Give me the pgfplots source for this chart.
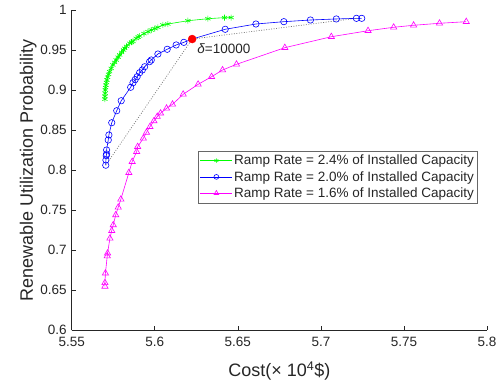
\documentclass[border=0pt]{standalone}
\usepackage{fontspec}
\setmainfont{Liberation Sans}
\usepackage{pgfplots}
\pgfplotsset{compat=1.18}

\definecolor{axgray}{gray}{0.15}
\definecolor{dotgray}{gray}{0.45}
\definecolor{cgreen}{rgb}{0,1,0}
\definecolor{cblue}{rgb}{0,0,1}
\definecolor{cmag}{rgb}{1,0,1}
\definecolor{cred}{rgb}{1,0,0}

% Pareto fronts: cost (x 10^4 $) vs. renewable utilization probability
\pgfplotstableread{
cost    prob
5.5700  0.8885
5.5700  0.8920
5.5701  0.8960
5.5702  0.9000
5.5704  0.9030
5.5706  0.9060
5.5709  0.9095
5.5712  0.9125
5.5716  0.9160
5.5722  0.9195
5.5728  0.9230
5.5738  0.9270
5.5748  0.9313
5.5758  0.9345
5.5768  0.9375
5.5779  0.9410
5.5789  0.9438
5.5800  0.9470
5.5812  0.9500
5.5819  0.9521
5.5830  0.9545
5.5849  0.9584
5.5860  0.9597
5.5869  0.9608
5.5888  0.9646
5.5900  0.9662
5.5909  0.9675
5.5935  0.9705
5.5959  0.9729
5.5979  0.9750
5.6000  0.9768
5.6019  0.9784
5.6049  0.9813
5.6079  0.9825
5.6199  0.9866
5.6320  0.9891
5.6420  0.9905
5.6460  0.9906
}\rampA

\pgfplotstableread{
cost    prob
5.5705  0.8060
5.5706  0.8125
5.5708  0.8180
5.5710  0.8200
5.5710  0.8250
5.5720  0.8375
5.5724  0.8438
5.5741  0.8591
5.5771  0.8741
5.5798  0.8866
5.5855  0.9034
5.5869  0.9091
5.5882  0.9130
5.5894  0.9166
5.5909  0.9216
5.5925  0.9250
5.5939  0.9291
5.5969  0.9354
5.5979  0.9375
5.6019  0.9450
5.6075  0.9509
5.6129  0.9563
5.6175  0.9596
5.6225  0.9637
5.6424  0.9759
5.6609  0.9825
5.6777  0.9854
5.6937  0.9875
5.7093  0.9888
5.7214  0.9896
5.7246  0.9896
}\rampB

\pgfplotstableread{
cost    prob
5.5700  0.6545
5.5700  0.6590
5.5703  0.6710
5.5714  0.6925
5.5716  0.6960
5.5730  0.7146
5.5741  0.7241
5.5750  0.7313
5.5765  0.7438
5.5780  0.7534
5.5796  0.7634
5.5844  0.7966
5.5864  0.8104
5.5891  0.8229
5.5897  0.8291
5.5931  0.8396
5.5950  0.8470
5.5971  0.8541
5.5995  0.8613
5.6015  0.8667
5.6035  0.8710
5.6071  0.8771
5.6107  0.8821
5.6171  0.8946
5.6261  0.9071
5.6342  0.9166
5.6408  0.9250
5.6492  0.9321
5.6783  0.9529
5.7063  0.9666
5.7284  0.9741
5.7438  0.9784
5.7558  0.9809
5.7714  0.9834
5.7875  0.9854
}\rampC

\begin{document}
\begin{tikzpicture}
\begin{axis}[
  scale only axis, width=415.3pt, height=320pt,
  xmin=5.55, xmax=5.8, ymin=0.6, ymax=1,
  axis x line*=bottom, axis y line*=left,
  axis line style={-, draw=axgray, line width=0.6pt},
  tick align=inside, major tick length=4pt,
  tick style={axgray, line width=0.6pt},
  xtick={5.55,5.6,5.65,5.7,5.75,5.8},
  xticklabels={5.55,5.6,5.65,5.7,5.75,5.8},
  ytick={0.6,0.65,0.7,0.75,0.8,0.85,0.9,0.95,1},
  yticklabels={0.6,0.65,0.7,0.75,0.8,0.85,0.9,0.95,1},
  ticklabel style={font=\fontsize{13.5pt}{16pt}\selectfont, text=axgray},
  xticklabel style={yshift=-4pt},
  yticklabel style={xshift=-1.5pt},
  xlabel={Cost(\texttimes{} 10\textsuperscript{4}\$)},
  ylabel={Renewable Utilization Probability},
  label style={font=\fontsize{18pt}{20pt}\selectfont, text=axgray, inner sep=0pt},
  xlabel style={at={(axis description cs:0.5,-0.1459)}, anchor=base},
  ylabel style={at={(axis description cs:-0.0932,0.5)}, anchor=base},
  legend style={at={(axis description cs:0.9776,0.5603)}, anchor=north east,
    draw=axgray!70, line width=0.5pt, fill=white,
    font=\fontsize{13.5pt}{15pt}\selectfont, text=axgray,
    inner xsep=2pt, inner ysep=1.5pt, row sep=0pt,
    nodes={inner xsep=1.5pt, inner ysep=2.5pt}},
  legend cell align=left,
  legend image code/.code={\draw[mark repeat=2,mark phase=2,
    mark options={scale=0.75}]
    plot coordinates {(0pt,0pt)(16pt,0pt)(32pt,0pt)};},
]
\addplot[color=cgreen, line width=0.6pt, mark=asterisk, mark size=3pt,
  mark options={solid}] table[x=cost,y=prob] {\rampA};
\addlegendentry{Ramp Rate = 2.4\% of Installed Capacity}
\addplot[color=cblue, line width=0.6pt, mark=o, mark size=3.2pt,
  mark options={solid}] table[x=cost,y=prob] {\rampB};
\addlegendentry{Ramp Rate = 2.0\% of Installed Capacity}
\addplot[color=cmag, line width=0.6pt, mark=triangle, mark size=3.6pt,
  mark options={solid}] table[x=cost,y=prob] {\rampC};
\addlegendentry{Ramp Rate = 1.6\% of Installed Capacity}

% trade-off construction through the chosen point
\addplot[forget plot, dotgray, line width=0.7pt, dash pattern=on 0.9pt off 1.6pt]
  coordinates {(5.5705,0.8060) (5.6225,0.9637) (5.7214,0.9896)};
\addplot[forget plot, only marks, mark=*, mark size=4pt, color=cred]
  coordinates {(5.6225,0.9637)};
\node[anchor=west, inner sep=0pt, font=\fontsize{13.5pt}{16pt}\selectfont, text=axgray]
  at (axis cs:5.6255,0.9513) {\textit{δ}=10000};
\end{axis}
\pgfresetboundingbox
\path (current axis.south west) ++(-71.7pt,-51pt) rectangle ++(500pt,381pt);
\end{tikzpicture}
\end{document}
